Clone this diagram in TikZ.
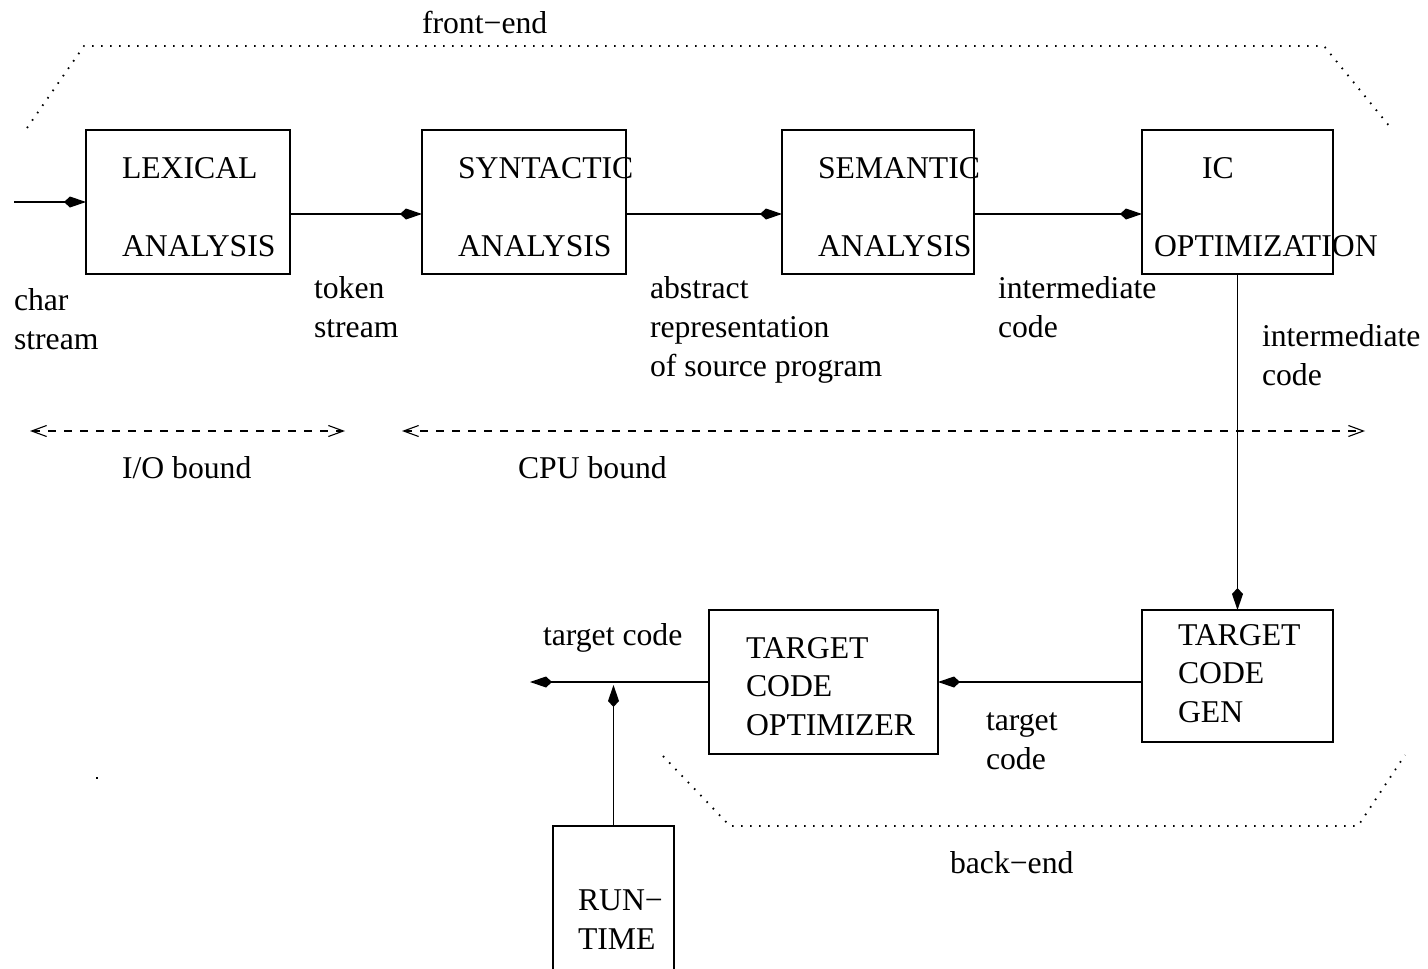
\documentclass[tikz,border=0pt]{standalone}
\usepackage{fontspec}
\setmainfont{Liberation Serif}
\usetikzlibrary{arrows.meta}
\begin{document}
\begin{tikzpicture}[x=1pt,y=-1pt,
  every node/.style={inner sep=0pt,outer sep=0pt},
  font=\fontsize{31.7}{39}\selectfont,
  stage/.style={draw,line width=1.5pt,rectangle},
  % multi-line text is placed by the baseline of its last line
  txt/.style={anchor=base west,align=left},
  flow/.style={line width=1.5pt,-{Kite[length=22pt,width=11pt,inset=6pt]}},
  span/.style={line width=1.1pt,dash pattern=on 8pt off 8pt,
    {Straight Barb[length=15pt,width=11pt,line width=1.1pt]}-{Straight Barb[length=15pt,width=11pt,line width=1.1pt]}},
  region/.style={line width=1.8pt,dash pattern=on 1.6pt off 7.4pt}]
\useasboundingbox (0,0) rectangle (1428,969);

% front-end and back-end outlines
\draw[region] (27,128) -- (84,46) -- (1324,46) -- (1390,127);
\draw[region] (663,756) -- (730,826) -- (1358,826) -- (1405,755);
\node[txt] (fe) at (422,33) {front−end};
\node[txt] (be) at (950,873) {back−end};

% analysis stages
\node[stage,minimum width=204pt,minimum height=144pt] (lex) at (188,202) {};
\node[stage,minimum width=204pt,minimum height=144pt] (syn) at (524,202) {};
\node[stage,minimum width=192pt,minimum height=144pt] (sem) at (878,202) {};
\node[stage,minimum width=191pt,minimum height=144pt] (ic) at (1237.5,202) {};
\node[txt] (lext) at (122,256) {LEXICAL\\[39pt]ANALYSIS};
\node[txt] (synt) at (458,256) {SYNTACTIC\\[39pt]ANALYSIS};
\node[txt] (semt) at (818,256) {SEMANTIC\\[39pt]ANALYSIS};
\node[txt] (ict) at (1202,178) {IC};
\node[txt] (icb) at (1154,256) {OPTIMIZATION};

% synthesis stages
\node[stage,minimum width=191pt,minimum height=132pt] (tcg) at (1237.5,676) {};
\node[stage,minimum width=229pt,minimum height=144pt] (tco) at (823.5,682) {};
\node[stage,minimum width=121pt,minimum height=174pt] (rt) at (613.5,913) {};
\node[txt] (tcgt) at (1178,722) {TARGET\\[-0.5pt]CODE\\[-0.5pt]GEN};
\node[txt] (tcot) at (746,735) {TARGET\\[-0.5pt]CODE\\[-0.5pt]OPTIMIZER};
\node[txt] (rtt) at (578,949) {RUN−\\TIME};

% data flow
\coordinate (in) at (14,202);
\coordinate (out) at (530,682);
\draw[flow] (in) -- (lex.west);
\draw[flow] ([yshift=-12pt]lex.east) -- ([yshift=-12pt]syn.west);
\draw[flow] ([yshift=-12pt]syn.east) -- ([yshift=-12pt]sem.west);
\draw[flow] ([yshift=-12pt]sem.east) -- ([yshift=-12pt]ic.west);
\draw[flow] (ic.south) -- (tcg.north);
\draw[flow] ([yshift=-6pt]tcg.west) -- (tco.east);
\draw[flow] (tco.west) -- (out);
\draw[flow] (rt.north) -- ([yshift=-3pt]rt.north |- tco.west);

% flow labels
\node[txt] (l1) at (14,349) {char\\stream};
\node[txt] (l2) at (314,337) {token\\stream};
\node[txt] (l3) at (650,376) {abstract\\representation\\of source program};
\node[txt] (l4) at (998,337) {intermediate\\code};
\node[txt] (l5) at (1262,385) {intermediate\\code};
\node[txt] (l6) at (543,645) {target code};
\node[txt] (l7) at (986,769) {target\\code};

% bound ranges
\coordinate (ioa) at (30,431);
\coordinate (iob) at (345,431);
\coordinate (cpua) at (402,431);
\coordinate (cpub) at (1365,431);
\draw[span] (ioa) -- (iob);
\draw[span] (cpua) -- (cpub);
\node[txt] (iot) at (122,478) {I/O bound};
\node[txt] (cput) at (518,478) {CPU bound};

\fill (96,777) rectangle (98,779);
\end{tikzpicture}
\end{document}
